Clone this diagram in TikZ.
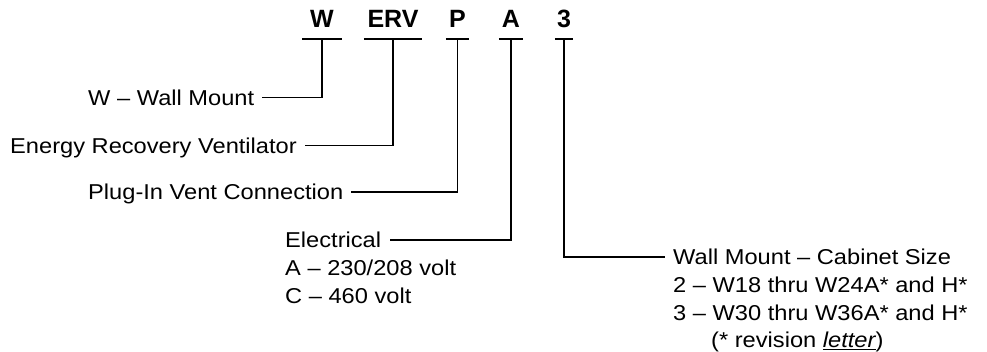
\documentclass[tikz,border=0pt]{standalone}
\usepackage{fontspec}
\setmainfont{Liberation Sans}[FakeStretch=1.1]
\newfontfamily\codefont{Liberation Sans Bold}
\begin{document}
\begin{tikzpicture}[x=1pt,y=-1pt,
  code/.style={font=\codefont\fontsize{25}{25}\selectfont, inner xsep=0pt, inner ysep=11pt, text depth=0pt, anchor=south},
  lbl/.style={font=\fontsize{21.5}{27}\selectfont, inner sep=0pt, text height=15pt, text depth=0pt, anchor=base west},
  bar/.style={line width=2.6pt},
  conn/.style={line width=1.3pt}]
\useasboundingbox (0,0) rectangle (987,351);
% code letters
\node[code, minimum width=39pt] (w) at (322,39) {W};
\node[code, minimum width=58pt] (erv) at (393,39) {ERV};
\node[code, minimum width=23pt] (p) at (457.5,39) {P};
\node[code, minimum width=24pt] (a) at (511,39) {A};
\node[code, minimum width=18pt] (n3) at (564,39) {3};
\foreach \c in {w,erv,p,a,n3}{\draw[bar] (\c.south west) -- (\c.south east);}
% labels
\node[lbl] (wl) at (88,105.2) {W – Wall Mount};
\node[lbl] (ervl) at (10,153.2) {Energy Recovery Ventilator};
\node[lbl] (pl) at (88,199.5) {Plug-In Vent Connection};
\node[lbl] (el) at (285,247.5) {Electrical};
\node[lbl] (ela) at (285,275.5) {A – 230/208 volt};
\node[lbl] (elc) at (285,303.5) {C – 460 volt};
\node[lbl] (cab) at (673,264.5) {Wall Mount – Cabinet Size};
\node[lbl] (cab2) at (673,292.5) {2 – W18 thru W24A* and H*};
\node[lbl] (cab3) at (673,320.5) {3 – W30 thru W36A* and H*};
\node[lbl] (cab4) at (711,347.5) {(* revision \underline{\itshape letter})};
% connectors
\draw[conn] (w.south) |- ([xshift=8pt]wl.east);
\draw[conn] (erv.south) |- ([xshift=8pt]ervl.east);
\draw[conn] (p.south) |- ([xshift=8pt]pl.east);
\draw[conn] (a.south) |- ([xshift=9pt]el.east);
\draw[conn] (n3.south) |- ([xshift=-8pt]cab.west);
\end{tikzpicture}
\end{document}
